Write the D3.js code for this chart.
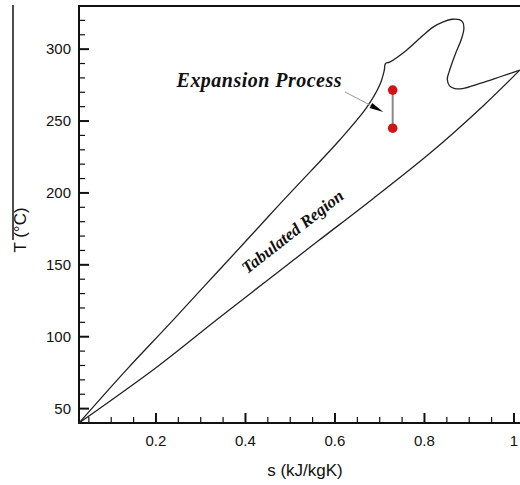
<!DOCTYPE html>
<html>
<head>
<meta charset="utf-8">
<script src="https://cdn.jsdelivr.net/npm/d3@7"></script>
<style>
  html, body { margin: 0; padding: 0; background: #fff; }
  svg { display: block; }
</style>
</head>
<body>
<svg id="chart" width="520" height="485"></svg>
<script>
// Tabulated region boundary in the T-s plane (s in kJ/kgK, T in °C)
const sUpper = [0.028, 0.137, 0.223, 0.309, 0.398, 0.473, 0.547, 0.611, 0.671, 0.700, 0.710, 0.713, 0.722, 0.760, 0.797, 0.820, 0.842, 0.862, 0.878, 0.886, 0.888, 0.883, 0.868, 0.855, 0.851, 0.856, 0.868, 0.885, 0.924, 0.969, 1.013];
const tUpper = [40, 78, 106.5, 135.5, 165.5, 191, 215.5, 237, 259.5, 275, 285, 290, 291, 299.3, 309.7, 315.5, 319, 320.8, 320.5, 318.5, 314, 307.4, 295.8, 284.2, 279, 274.5, 272.5, 272.6, 276.2, 280.8, 285.4];
const sLower = [1.013, 0.931, 0.810, 0.685, 0.562, 0.450, 0.3385, 0.2045, 0.028];
const tLower = [285.4, 260.5, 227, 196, 166.5, 139.5, 112.5, 79.5, 40];

// Expansion process end states
const sExpansion = [0.729, 0.729];
const tExpansion = [271.5, 245];

// Axis ticks
const xMajorTicks = [0.2, 0.4, 0.6, 0.8, 1.0];
const xMinorTicks = [0.05, 0.1, 0.15, 0.25, 0.3, 0.35, 0.45, 0.5, 0.55, 0.65, 0.7, 0.75, 0.85, 0.9, 0.95];
const yMajorTicks = [50, 100, 150, 200, 250, 300];
const yMinorTicks = [60, 70, 80, 90, 110, 120, 130, 140, 160, 170, 180, 190, 210, 220, 230, 240, 260, 270, 280, 290, 310, 320];

const svg = d3.select("#chart");
const plotLeft = 79, plotTop = 6, plotBottom = 423;

const x = d3.scaleLinear().domain([0.028, 1.02]).range([plotLeft, plotLeft + 0.992 * 447.5]);
const y = d3.scaleLinear().domain([40, 330]).range([plotBottom, plotTop]);

const sansFont = "'Liberation Sans', Arial, Helvetica, sans-serif";
const serifFont = "'Liberation Serif', 'Times New Roman', Times, serif";

// Inward tick marks
const ticks = svg.append("g").attr("stroke", "#111");
ticks.selectAll("line.xminor").data(xMinorTicks).join("line")
  .attr("class", "xminor")
  .attr("x1", d => x(d)).attr("x2", d => x(d))
  .attr("y1", plotBottom).attr("y2", plotBottom - 6)
  .attr("stroke-width", 1.2);
ticks.selectAll("line.xmajor").data(xMajorTicks).join("line")
  .attr("class", "xmajor")
  .attr("x1", d => x(d)).attr("x2", d => x(d))
  .attr("y1", plotBottom).attr("y2", plotBottom - 10)
  .attr("stroke-width", 2);
ticks.selectAll("line.yminor").data(yMinorTicks).join("line")
  .attr("class", "yminor")
  .attr("y1", d => y(d)).attr("y2", d => y(d))
  .attr("x1", plotLeft).attr("x2", plotLeft + 6)
  .attr("stroke-width", 1.2);
ticks.selectAll("line.ymajor").data(yMajorTicks).join("line")
  .attr("class", "ymajor")
  .attr("y1", d => y(d)).attr("y2", d => y(d))
  .attr("x1", plotLeft).attr("x2", plotLeft + 10)
  .attr("stroke-width", 2);

// Tick labels
const fmt = d3.format("~g");
svg.append("g").selectAll("text").data(xMajorTicks).join("text")
  .attr("x", d => x(d)).attr("y", plotBottom + 23)
  .attr("text-anchor", "middle")
  .attr("font-family", sansFont).attr("font-size", 15).attr("fill", "#111")
  .text(d => fmt(d));
svg.append("g").selectAll("text").data(yMajorTicks).join("text")
  .attr("x", plotLeft - 8).attr("y", d => y(d)).attr("dy", "0.35em")
  .attr("text-anchor", "end")
  .attr("font-family", sansFont).attr("font-size", 15).attr("fill", "#111")
  .text(d => fmt(d));

// Frame
const frame = svg.append("g").attr("stroke", "#111").attr("stroke-width", 2).attr("fill", "none");
frame.append("line").attr("x1", plotLeft).attr("x2", plotLeft).attr("y1", plotTop).attr("y2", plotBottom + 1);
frame.append("line").attr("x1", plotLeft - 1).attr("x2", x.range()[1]).attr("y1", plotTop).attr("y2", plotTop);
frame.append("line").attr("x1", plotLeft - 1).attr("x2", x.range()[1]).attr("y1", plotBottom).attr("y2", plotBottom);

// Axis titles
svg.append("text")
  .attr("x", 305).attr("y", 476)
  .attr("text-anchor", "middle")
  .attr("font-family", sansFont).attr("font-size", 17).attr("fill", "#111")
  .text("s (kJ/kgK)");
svg.append("text")
  .attr("transform", "translate(26,230) rotate(-90)")
  .attr("text-anchor", "middle")
  .attr("font-family", sansFont).attr("font-size", 17).attr("fill", "#111")
  .text("T (°C)");
svg.append("line")
  .attr("x1", 13).attr("x2", 13).attr("y1", 5).attr("y2", 240)
  .attr("stroke", "#111").attr("stroke-width", 1.5);

// Region boundary
const line = d3.line().x(d => x(d[0])).y(d => y(d[1])).curve(d3.curveCatmullRom.alpha(0.5));
const upperPts = sUpper.map((s, i) => [s, tUpper[i]]);
const lowerPts = sLower.map((s, i) => [s, tLower[i]]);
const plot = svg.append("g");
plot.append("path").attr("d", line(upperPts))
  .attr("fill", "none").attr("stroke", "#222").attr("stroke-width", 1.3);
plot.append("path").attr("d", line(lowerPts))
  .attr("fill", "none").attr("stroke", "#222").attr("stroke-width", 1.3);

// Region label along the band
svg.append("text")
  .attr("transform", `translate(${x(0.404)},${y(143.5)}) rotate(-38)`)
  .attr("font-family", serifFont).attr("font-style", "italic").attr("font-weight", "bold")
  .attr("font-size", 17).attr("fill", "#111")
  .attr("textLength", 124).attr("lengthAdjust", "spacing")
  .text("Tabulated Region");

// Expansion process
const expPts = sExpansion.map((s, i) => [s, tExpansion[i]]);
plot.append("path").attr("d", d3.line().x(d => x(d[0])).y(d => y(d[1]))(expPts))
  .attr("stroke", "#8a8a8a").attr("stroke-width", 2).attr("fill", "none");
plot.selectAll("circle.state").data(expPts).join("circle")
  .attr("class", "state")
  .attr("cx", d => x(d[0])).attr("cy", d => y(d[1])).attr("r", 4.8)
  .attr("fill", "#d41414");

// Callout label and arrow
const arrowStart = [0.622, 270.3], arrowTip = [0.708, 256.3];
const ax0 = x(arrowStart[0]), ay0 = y(arrowStart[1]);
const ax1 = x(arrowTip[0]), ay1 = y(arrowTip[1]);
const ang = Math.atan2(ay1 - ay0, ax1 - ax0);
const headLen = 14, headHalf = 2.8;
const bx = ax1 - headLen * Math.cos(ang), by = ay1 - headLen * Math.sin(ang);
svg.append("line")
  .attr("x1", ax0).attr("y1", ay0).attr("x2", bx).attr("y2", by)
  .attr("stroke", "#999").attr("stroke-width", 1);
svg.append("path")
  .attr("d", `M${ax1},${ay1} L${bx - headHalf * Math.sin(ang)},${by + headHalf * Math.cos(ang)} L${bx + headHalf * Math.sin(ang)},${by - headHalf * Math.cos(ang)} Z`)
  .attr("fill", "#000");
svg.append("text")
  .attr("x", x(0.246)).attr("y", y(273.8))
  .attr("font-family", serifFont).attr("font-style", "italic").attr("font-weight", "bold")
  .attr("font-size", 20).attr("fill", "#111")
  .attr("textLength", 165).attr("lengthAdjust", "spacing")
  .text("Expansion Process");
</script>
</body>
</html>
